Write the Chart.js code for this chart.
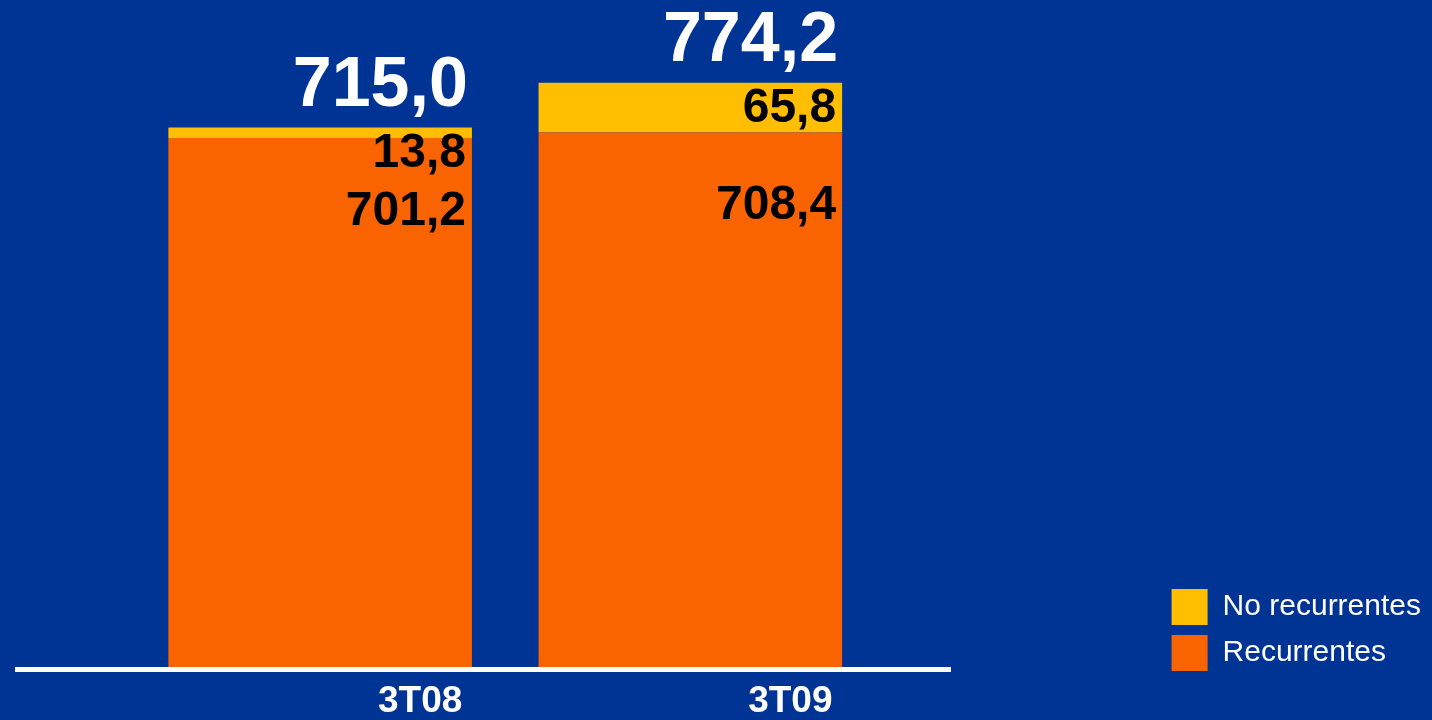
<!DOCTYPE html>
<html>
<head>
<meta charset="utf-8">
<script src="https://cdn.jsdelivr.net/npm/chart.js@4/dist/chart.umd.min.js"></script>
<style>
  html, body { margin: 0; padding: 0; background: #003494; }
  #wrap { width: 1432px; height: 720px; }
</style>
</head>
<body>
<div id="wrap"><canvas id="chart"></canvas></div>
<script>
const categories = ['3T08', '3T09'];
const recurrentes = [701.2, 708.4];
const noRecurrentes = [13.8, 65.8];
const seriesNames = ['Recurrentes', 'No recurrentes'];

const fmt = v => v.toFixed(1).replace('.', ',');

// value labels inside and above the stacks
const valueLabels = {
    id: 'valueLabels',
    afterDatasetsDraw(chart) {
        const ctx = chart.ctx;
        const rec = chart.getDatasetMeta(0).data;
        const noRec = chart.getDatasetMeta(1).data;
        ctx.save();
        ctx.textAlign = 'right';
        ctx.textBaseline = 'alphabetic';
        categories.forEach((c, i) => {
            const r = rec[i], n = noRec[i];
            const right = r.x + r.width / 2;
            ctx.fillStyle = '#000';
            ctx.font = 'bold 48px "Liberation Sans", Arial, sans-serif';
            ctx.fillText(fmt(recurrentes[i]), right - 6, r.y + 87);
            ctx.fillText(fmt(noRecurrentes[i]), right - 6, n.y + 39);
            ctx.fillStyle = '#fff';
            ctx.font = 'bold 70px "Liberation Sans", Arial, sans-serif';
            ctx.fillText(fmt(recurrentes[i] + noRecurrentes[i]), right - 4, n.y - 22);
        });
        ctx.restore();
    }
};

// white base line, wider than the plot area
const baseLine = {
    id: 'baseLine',
    afterDatasetsDraw(chart) {
        const ctx = chart.ctx;
        const y = chart.scales.y.getPixelForValue(0) + 2.5;
        ctx.save();
        ctx.strokeStyle = '#fff';
        ctx.lineWidth = 5;
        ctx.beginPath();
        ctx.moveTo(15, y);
        ctx.lineTo(951, y);
        ctx.stroke();
        ctx.restore();
    }
};

// legend sits a little lower than the plot bottom
const legendNudge = {
    id: 'legendNudge',
    afterLayout(chart) {
        chart.legend.top += 14;
        chart.legend.bottom += 14;
    }
};

new Chart(document.getElementById('chart'), {
    type: 'bar',
    data: {
        datasets: [
            {
                label: seriesNames[0],
                data: categories.map((c, i) => ({ x: i, y: recurrentes[i] })),
                backgroundColor: '#F96400'
            },
            {
                label: seriesNames[1],
                data: categories.map((c, i) => ({ x: i, y: noRecurrentes[i] })),
                backgroundColor: '#FFBE00'
            }
        ]
    },
    options: {
        responsive: true,
        maintainAspectRatio: false,
        animation: false,
        barPercentage: 0.82,
        categoryPercentage: 1,
        layout: { padding: { left: 15, right: 1, top: 3, bottom: -16 } },
        plugins: {
            legend: {
                position: 'right',
                align: 'end',
                fullSize: false,
                reverse: true,
                labels: {
                    color: '#fff',
                    boxWidth: 36,
                    boxHeight: 36,
                    padding: 10,
                    font: { family: '"Liberation Sans", Arial, sans-serif', size: 30 }
                }
            },
            tooltip: { enabled: false }
        },
        scales: {
            x: {
                type: 'linear',
                stacked: true,
                offset: false,
                min: -0.8243,
                max: 2.273,
                grid: { display: false, drawTicks: false },
                border: { display: false },
                afterBuildTicks: scale => { scale.ticks = categories.map((c, i) => ({ value: i })); },
                ticks: {
                    color: '#fff',
                    padding: 16,
                    labelOffset: 100,
                    maxRotation: 0,
                    font: { family: '"Liberation Sans", Arial, sans-serif', size: 37, weight: 'bold', lineHeight: 1 },
                    callback: v => categories[v]
                }
            },
            y: {
                stacked: true,
                display: false,
                min: 0,
                max: 880
            }
        }
    },
    plugins: [valueLabels, baseLine, legendNudge]
});
</script>
</body>
</html>
